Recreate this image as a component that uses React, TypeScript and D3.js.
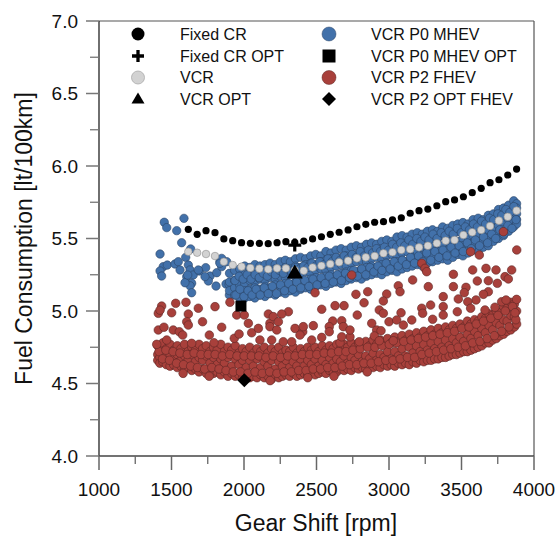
import React from 'react';
import * as d3 from 'd3';

const xTicks = [1000, 1500, 2000, 2500, 3000, 3500, 4000];
const yTicks = [4.0, 4.5, 5.0, 5.5, 6.0, 6.5, 7.0];
const xMinor = [1250, 1750, 2250, 2750, 3250, 3750];
const yMinor = [4.25, 4.75, 5.25, 5.75, 6.25, 6.75];

// Fixed CR and VCR sweep (same gear-shift points)
const sweepRpm = [1616, 1677, 1738, 1800, 1861, 1922, 1983, 2044, 2106, 2167, 2228, 2289, 2350, 2412, 2473, 2534, 2595, 2656, 2718, 2779, 2840, 2901, 2962, 3024, 3085, 3146, 3207, 3268, 3330, 3391, 3452, 3513, 3574, 3636, 3697, 3758, 3819, 3880];
const fixedCrFc = [5.563, 5.529, 5.554, 5.540, 5.497, 5.485, 5.471, 5.467, 5.467, 5.464, 5.471, 5.478, 5.474, 5.482, 5.497, 5.512, 5.529, 5.543, 5.559, 5.581, 5.598, 5.612, 5.616, 5.628, 5.643, 5.674, 5.692, 5.703, 5.726, 5.754, 5.766, 5.788, 5.816, 5.846, 5.885, 5.905, 5.938, 5.979];
const vcrFc = [5.409, 5.402, 5.393, 5.379, 5.340, 5.317, 5.306, 5.297, 5.292, 5.288, 5.294, 5.294, 5.280, 5.278, 5.300, 5.312, 5.324, 5.336, 5.347, 5.363, 5.370, 5.379, 5.398, 5.405, 5.421, 5.426, 5.439, 5.450, 5.467, 5.485, 5.490, 5.524, 5.543, 5.559, 5.586, 5.623, 5.650, 5.692];

// Optimum points [rpm, fc]
const fixedCrOpt = [2350, 5.455];
const vcrOpt = [2350, 5.262];
const p0Opt = [1979, 5.034];
const p2Opt = [2002, 4.522];

// VCR P0 MHEV: scattered low-rpm points [rpm, fc]
const p0Scatter = [
  [1450, 5.612], [1467, 5.575], [1536, 5.554], [1586, 5.639], [1570, 5.471], [1421, 5.393], [1632, 5.428], [1598, 5.370],
  [1443, 5.306], [1471, 5.317], [1421, 5.276], [1432, 5.241], [1524, 5.324], [1547, 5.340], [1559, 5.283], [1616, 5.317],
  [1628, 5.283], [1605, 5.237], [1650, 5.248], [1692, 5.276], [1736, 5.299], [1639, 5.191], [1628, 5.174], [1639, 5.126],
  [1766, 5.241], [1754, 5.207], [1812, 5.264], [1807, 5.172], [1834, 5.340], [1846, 5.306], [1881, 5.340], [1876, 5.186],
  [1899, 5.110], [1846, 5.363], [1593, 5.195], [1612, 5.248], [1685, 5.283], [1731, 5.237], [1834, 5.329], [1897, 5.184],
];
// VCR P0 MHEV: dense band, columns [rpm, fc...]
const p0BandCols = [
  [1900, 5.26, 5.20, 5.14], [1935, 5.28, 5.21, 5.16, 5.11], [1970, 5.29, 5.24, 5.18, 5.12, 5.09],
  [2005, 5.31, 5.25, 5.19, 5.14, 5.09], [2040, 5.30, 5.26, 5.21, 5.15, 5.10], [2075, 5.32, 5.27, 5.20, 5.16, 5.09],
  [2110, 5.31, 5.25, 5.22, 5.15, 5.11], [2145, 5.32, 5.28, 5.21, 5.17, 5.10], [2180, 5.33, 5.27, 5.23, 5.16, 5.12],
  [2215, 5.32, 5.29, 5.22, 5.18, 5.11], [2250, 5.34, 5.28, 5.24, 5.17, 5.13], [2285, 5.35, 5.30, 5.23, 5.19, 5.12],
  [2320, 5.34, 5.29, 5.25, 5.18, 5.14], [2355, 5.36, 5.31, 5.24, 5.20, 5.13], [2390, 5.37, 5.30, 5.26, 5.21, 5.15],
  [2425, 5.36, 5.32, 5.27, 5.20, 5.16], [2460, 5.38, 5.33, 5.26, 5.22, 5.15], [2495, 5.39, 5.32, 5.28, 5.23, 5.17],
  [2530, 5.38, 5.34, 5.29, 5.22, 5.18], [2565, 5.41, 5.35, 5.28, 5.24, 5.17], [2600, 5.40, 5.36, 5.30, 5.25, 5.19],
  [2635, 5.42, 5.35, 5.31, 5.24, 5.20], [2670, 5.43, 5.37, 5.32, 5.26, 5.19], [2705, 5.42, 5.38, 5.31, 5.27, 5.21],
  [2740, 5.44, 5.37, 5.33, 5.28, 5.22], [2775, 5.45, 5.39, 5.34, 5.27, 5.23], [2810, 5.44, 5.40, 5.35, 5.29, 5.22],
  [2845, 5.46, 5.41, 5.34, 5.30, 5.24], [2880, 5.47, 5.40, 5.36, 5.31, 5.25], [2915, 5.46, 5.42, 5.37, 5.30, 5.26],
  [2950, 5.48, 5.43, 5.36, 5.32, 5.25], [2985, 5.49, 5.42, 5.38, 5.33, 5.27], [3020, 5.48, 5.44, 5.39, 5.32, 5.28],
  [3055, 5.51, 5.45, 5.38, 5.34, 5.27], [3090, 5.52, 5.44, 5.40, 5.35, 5.29], [3125, 5.51, 5.47, 5.41, 5.34, 5.30],
  [3160, 5.53, 5.46, 5.42, 5.37, 5.31], [3195, 5.54, 5.48, 5.41, 5.36, 5.32], [3230, 5.53, 5.49, 5.44, 5.38, 5.31],
  [3265, 5.55, 5.48, 5.43, 5.39, 5.33], [3300, 5.56, 5.51, 5.45, 5.38, 5.34], [3335, 5.55, 5.50, 5.46, 5.41, 5.35],
  [3370, 5.58, 5.52, 5.45, 5.40, 5.36], [3405, 5.57, 5.53, 5.48, 5.42, 5.35], [3440, 5.59, 5.52, 5.49, 5.43, 5.37],
  [3475, 5.60, 5.55, 5.48, 5.44, 5.39], [3510, 5.61, 5.54, 5.50, 5.45, 5.38], [3545, 5.60, 5.57, 5.51, 5.46, 5.40],
  [3580, 5.63, 5.56, 5.52, 5.47, 5.42], [3615, 5.64, 5.59, 5.53, 5.48, 5.41], [3650, 5.63, 5.58, 5.54, 5.49, 5.44],
  [3685, 5.66, 5.61, 5.56, 5.50, 5.45], [3720, 5.67, 5.62, 5.57, 5.52, 5.48], [3755, 5.70, 5.63, 5.59, 5.54, 5.50],
  [3790, 5.71, 5.66, 5.61, 5.56, 5.52], [3825, 5.73, 5.68, 5.63, 5.58, 5.55], [3860, 5.76, 5.70, 5.65, 5.61, 5.58],
  [3880, 5.74, 5.71, 5.67, 5.63, 5.60],
];
// VCR P0 MHEV: further band points, two rows of [rpm, fc]
const p0BandRowA = [
  [1938, 5.21], [1966, 5.24], [1994, 5.22], [2022, 5.25], [2049, 5.22], [2077, 5.25], [2105, 5.23], [2133, 5.26], [2161, 5.24], [2189, 5.27],
  [2217, 5.25], [2245, 5.28], [2272, 5.26], [2300, 5.29], [2328, 5.27], [2356, 5.30], [2384, 5.29], [2412, 5.31], [2440, 5.30], [2468, 5.33],
  [2495, 5.31], [2523, 5.34], [2551, 5.32], [2579, 5.36], [2607, 5.34], [2635, 5.37], [2663, 5.35], [2691, 5.38], [2718, 5.36], [2746, 5.39],
  [2774, 5.37], [2802, 5.41], [2830, 5.38], [2858, 5.42], [2886, 5.40], [2914, 5.43], [2941, 5.41], [2969, 5.44], [2997, 5.42], [3025, 5.46],
  [3053, 5.44], [3081, 5.47], [3109, 5.45], [3137, 5.49], [3164, 5.46], [3192, 5.50], [3220, 5.48], [3248, 5.51], [3276, 5.49], [3304, 5.53],
  [3332, 5.50], [3360, 5.54], [3387, 5.52], [3415, 5.55], [3443, 5.53], [3471, 5.57], [3499, 5.54], [3527, 5.58], [3555, 5.56], [3583, 5.60],
  [3610, 5.58], [3638, 5.62], [3666, 5.60], [3694, 5.64], [3722, 5.63], [3750, 5.67], [3778, 5.66], [3806, 5.70], [3833, 5.68], [3861, 5.72],
];
const p0BandRowB = [
  [1944, 5.11], [1972, 5.15], [2000, 5.10], [2028, 5.14], [2056, 5.11], [2084, 5.15], [2112, 5.11], [2140, 5.16], [2168, 5.12], [2196, 5.17],
  [2224, 5.12], [2252, 5.18], [2280, 5.14], [2308, 5.19], [2336, 5.15], [2364, 5.20], [2392, 5.16], [2420, 5.21], [2448, 5.17], [2476, 5.22],
  [2504, 5.18], [2532, 5.23], [2560, 5.19], [2588, 5.24], [2616, 5.20], [2644, 5.25], [2672, 5.21], [2700, 5.26], [2728, 5.23], [2756, 5.28],
  [2784, 5.24], [2812, 5.29], [2840, 5.25], [2868, 5.30], [2896, 5.27], [2924, 5.31], [2952, 5.28], [2980, 5.33], [3008, 5.29], [3036, 5.34],
  [3064, 5.31], [3092, 5.35], [3120, 5.32], [3148, 5.37], [3176, 5.33], [3204, 5.38], [3232, 5.34], [3260, 5.40], [3288, 5.35], [3316, 5.41],
  [3344, 5.37], [3372, 5.42], [3400, 5.38], [3428, 5.44], [3456, 5.40], [3484, 5.45], [3512, 5.41], [3540, 5.47], [3568, 5.43], [3596, 5.49],
  [3624, 5.45], [3652, 5.51], [3680, 5.47], [3708, 5.53], [3736, 5.50], [3764, 5.56], [3792, 5.53], [3820, 5.59], [3848, 5.57], [3876, 5.63],
];

// VCR P2 FHEV: scattered points above the dense band [rpm, fc]
const p2Scatter = [
  [1432, 5.034], [1409, 4.984], [1529, 5.053], [1600, 5.060], [1685, 5.019], [1501, 4.988], [1616, 4.979], [1800, 5.030],
  [1903, 5.060], [1950, 4.972], [2002, 4.972], [2168, 4.979], [1605, 4.926], [1616, 4.903], [1714, 4.926], [2030, 4.915],
  [1409, 4.869], [1448, 4.888], [1512, 4.869], [1554, 4.857], [1577, 4.834], [1761, 4.834], [1846, 4.888], [1933, 4.812],
  [1966, 4.841], [2053, 4.850], [2099, 4.880], [2110, 4.800], [2191, 4.800], [2179, 4.915], [1467, 4.800], [1398, 4.770],
  [1639, 4.777], [1793, 4.781], [1421, 5.006],
  [2743, 5.248], [2490, 5.126], [2772, 5.115], [2853, 5.133], [2984, 5.117], [3064, 5.174], [2828, 5.057], [2628, 5.037],
  [2690, 5.037], [2536, 5.012], [2781, 4.972], [2933, 5.007], [2961, 4.984], [3083, 4.988], [2306, 4.995], [2260, 4.979],
  [2202, 4.961], [2237, 4.926], [2179, 4.892], [2226, 4.869], [2612, 4.931], [2674, 4.933], [2685, 4.892], [2588, 4.892],
  [2588, 4.857], [2478, 4.899], [2352, 4.880], [2405, 4.857], [2386, 4.834], [2467, 4.800], [2536, 4.818], [2662, 4.781],
  [2731, 4.822], [2795, 4.788], [2881, 4.915], [2915, 4.869], [2945, 4.864], [3000, 4.926], [3053, 4.938], [3099, 4.903],
  [2899, 4.828], [2933, 4.795], [3030, 4.795], [2271, 4.788], [2329, 4.788], [2961, 5.069], [2731, 4.869], [2409, 4.892],
  [2674, 4.822],
  [3789, 5.547], [3881, 5.421], [3563, 5.409], [3623, 5.386], [3226, 5.329], [3248, 5.294], [3260, 5.271], [3163, 5.214],
  [3444, 5.253], [3577, 5.283], [3669, 5.294], [3738, 5.283], [3846, 5.283], [3800, 5.237], [3823, 5.221], [3609, 5.207],
  [3685, 5.209], [3747, 5.191], [3444, 5.168], [3531, 5.163], [3271, 5.168], [3519, 5.126], [3374, 5.099], [3478, 5.083],
  [3600, 5.076], [3543, 5.064], [3563, 5.019], [3685, 5.133], [3651, 5.115], [3777, 5.064], [3807, 5.076], [3869, 4.988],
  [3287, 5.041], [3374, 5.030], [3471, 4.995], [3374, 4.972], [3301, 4.943], [3226, 5.019], [3232, 4.984], [3157, 4.938],
  [3662, 5.007], [3731, 5.026], [3076, 5.133],
  [1580, 4.570], [1760, 4.550], [2180, 4.520], [2440, 4.540], [2620, 4.550], [2850, 4.580],
];
// VCR P2 FHEV: dense band, columns [rpm, fc...]
const p2BandCols = [
  [1405, 4.76, 4.70, 4.66], [1420, 4.73, 4.68, 4.64], [1440, 4.78, 4.71, 4.65], [1465, 4.74, 4.69, 4.63], [1490, 4.77, 4.70, 4.62],
  [1515, 4.73, 4.67, 4.63], [1540, 4.76, 4.70, 4.61], [1565, 4.74, 4.66, 4.62], [1590, 4.77, 4.69, 4.60], [1615, 4.72, 4.66, 4.61],
  [1640, 4.75, 4.70, 4.59], [1665, 4.73, 4.65, 4.60], [1690, 4.77, 4.68, 4.58], [1715, 4.74, 4.66, 4.60], [1740, 4.76, 4.69, 4.57],
  [1765, 4.72, 4.64, 4.59], [1790, 4.75, 4.68, 4.57], [1815, 4.73, 4.63, 4.58], [1840, 4.77, 4.67, 4.56], [1865, 4.72, 4.64, 4.58],
  [1890, 4.75, 4.68, 4.55], [1915, 4.73, 4.62, 4.57], [1940, 4.76, 4.67, 4.55], [1965, 4.71, 4.63, 4.56], [1990, 4.74, 4.66, 4.54],
  [2015, 4.72, 4.61, 4.56], [2040, 4.75, 4.66, 4.54], [2065, 4.71, 4.62, 4.55], [2090, 4.74, 4.67, 4.54], [2115, 4.72, 4.61, 4.56],
  [2140, 4.75, 4.65, 4.54], [2165, 4.71, 4.62, 4.55], [2190, 4.74, 4.66, 4.53], [2215, 4.72, 4.60, 4.56], [2240, 4.75, 4.65, 4.54],
  [2265, 4.71, 4.62, 4.55], [2290, 4.73, 4.66, 4.56], [2315, 4.72, 4.61, 4.55], [2340, 4.75, 4.65, 4.57], [2365, 4.71, 4.62, 4.55],
  [2390, 4.74, 4.67, 4.56], [2415, 4.72, 4.62, 4.57], [2440, 4.75, 4.66, 4.56], [2465, 4.73, 4.63, 4.58], [2490, 4.75, 4.67, 4.56],
  [2515, 4.72, 4.62, 4.57], [2540, 4.76, 4.66, 4.58], [2565, 4.73, 4.63, 4.57], [2590, 4.76, 4.68, 4.59], [2615, 4.74, 4.64, 4.58],
  [2640, 4.77, 4.67, 4.58], [2665, 4.74, 4.65, 4.60], [2690, 4.77, 4.69, 4.59], [2715, 4.75, 4.64, 4.60], [2740, 4.78, 4.68, 4.59],
  [2765, 4.75, 4.66, 4.61], [2790, 4.78, 4.70, 4.60], [2815, 4.76, 4.65, 4.61], [2840, 4.79, 4.69, 4.60], [2865, 4.76, 4.67, 4.62],
  [2890, 4.80, 4.71, 4.61], [2915, 4.77, 4.66, 4.62], [2940, 4.80, 4.70, 4.61], [2965, 4.78, 4.68, 4.63], [2990, 4.81, 4.72, 4.62],
  [3015, 4.78, 4.67, 4.63], [3040, 4.82, 4.72, 4.62], [3065, 4.79, 4.69, 4.64], [3090, 4.83, 4.74, 4.63], [3115, 4.80, 4.69, 4.64],
  [3140, 4.84, 4.75, 4.63], [3165, 4.81, 4.71, 4.65], [3190, 4.85, 4.76, 4.64], [3215, 4.82, 4.72, 4.66], [3240, 4.86, 4.77, 4.65],
  [3265, 4.83, 4.73, 4.66], [3290, 4.87, 4.78, 4.66], [3315, 4.84, 4.74, 4.67], [3340, 4.88, 4.79, 4.67], [3365, 4.85, 4.75, 4.68],
  [3390, 4.89, 4.80, 4.68], [3415, 4.87, 4.76, 4.69], [3440, 4.90, 4.81, 4.70], [3465, 4.88, 4.78, 4.70], [3490, 4.91, 4.82, 4.71],
  [3515, 4.89, 4.79, 4.72], [3540, 4.93, 4.84, 4.72], [3565, 4.91, 4.81, 4.73], [3590, 4.94, 4.86, 4.74], [3615, 4.93, 4.83, 4.75],
  [3640, 4.96, 4.88, 4.76], [3665, 4.95, 4.85, 4.78], [3690, 4.98, 4.90, 4.78], [3715, 4.97, 4.87, 4.80], [3740, 5.00, 4.92, 4.81],
  [3765, 4.99, 4.90, 4.83], [3790, 5.03, 4.94, 4.84], [3815, 5.02, 4.93, 4.86], [3840, 5.06, 4.97, 4.87], [3865, 5.05, 4.96, 4.89],
  [3880, 5.08, 5.00, 4.91],
];
// VCR P2 FHEV: further band points, two rows of [rpm, fc]
const p2BandRowA = [
  [1414, 4.72], [1438, 4.67], [1461, 4.73], [1486, 4.66], [1511, 4.72], [1535, 4.64], [1558, 4.71], [1583, 4.63], [1609, 4.70], [1632, 4.62],
  [1656, 4.71], [1679, 4.61], [1704, 4.70], [1729, 4.60], [1753, 4.70], [1778, 4.61], [1801, 4.70], [1828, 4.60], [1851, 4.69], [1876, 4.59],
  [1902, 4.70], [1926, 4.58], [1952, 4.69], [1976, 4.58], [2001, 4.69], [2027, 4.57], [2051, 4.69], [2076, 4.58], [2102, 4.69], [2126, 4.57],
  [2151, 4.68], [2177, 4.58], [2201, 4.69], [2227, 4.57], [2252, 4.68], [2276, 4.58], [2302, 4.69], [2327, 4.58], [2352, 4.69], [2377, 4.59],
  [2402, 4.70], [2428, 4.59], [2452, 4.70], [2477, 4.60], [2502, 4.70], [2528, 4.60], [2553, 4.71], [2577, 4.61], [2603, 4.71], [2627, 4.61],
  [2652, 4.72], [2678, 4.62], [2703, 4.72], [2727, 4.63], [2752, 4.73], [2778, 4.63], [2802, 4.74], [2827, 4.64], [2852, 4.75], [2877, 4.64],
  [2903, 4.75], [2927, 4.65], [2952, 4.76], [2978, 4.66], [3002, 4.77], [3027, 4.66], [3052, 4.78], [3077, 4.67], [3102, 4.79], [3127, 4.68],
  [3152, 4.80], [3177, 4.68], [3202, 4.81], [3227, 4.70], [3252, 4.82], [3277, 4.71], [3302, 4.83], [3327, 4.72], [3352, 4.84], [3377, 4.73],
  [3402, 4.85], [3427, 4.74], [3452, 4.86], [3477, 4.75], [3502, 4.88], [3527, 4.76], [3552, 4.89], [3577, 4.78], [3602, 4.91], [3627, 4.79],
  [3652, 4.93], [3677, 4.81], [3702, 4.95], [3727, 4.83], [3752, 4.97], [3777, 4.86], [3802, 5.00], [3827, 4.89], [3852, 5.03], [3875, 4.94],
];

const legendCol1 = ['Fixed CR', 'Fixed CR OPT', 'VCR', 'VCR OPT'];
const legendCol2 = ['VCR P0 MHEV', 'VCR P0 MHEV OPT', 'VCR P2 FHEV', 'VCR P2 OPT FHEV'];

const W = 559;
const H = 538;
const L = 99, R = 534, T = 21, B = 456;
const FONT = '"Liberation Sans", Arial, Helvetica, sans-serif';

const BLUE = '#4271aa';
const RED = '#a8403b';
const GREY = '#d2d2d2';

function plusPath(cx: number, cy: number, s: number, t: number) {
  const h = s / 2, w = t / 2;
  return `M${cx - w},${cy - h}H${cx + w}V${cy - w}H${cx + h}V${cy + w}H${cx + w}V${cy + h}H${cx - w}V${cy + w}H${cx - h}V${cy - w}H${cx - w}Z`;
}
function triPath(cx: number, cy: number, w: number, h: number) {
  return `M${cx - w / 2},${cy + h * 0.4}L${cx + w / 2},${cy + h * 0.4}L${cx},${cy - h * 0.6}Z`;
}
function diamondPath(cx: number, cy: number, r: number) {
  return `M${cx},${cy - r}L${cx + r},${cy}L${cx},${cy + r}L${cx - r},${cy}Z`;
}

export default function App() {
  const x = d3.scaleLinear().domain([1000, 4000]).range([L, R]);
  const y = d3.scaleLinear().domain([4, 7]).range([B, T]);

  const fromCols = (cols: number[][]) => cols.flatMap((c) => c.slice(1).map((v) => [c[0], v]));
  const p0Pts = [...p0Scatter, ...fromCols(p0BandCols), ...p0BandRowB, ...p0BandRowA];
  const p2Pts = [...fromCols(p2BandCols), ...p2BandRowA, ...p2Scatter];

  const legRows = [34, 56, 77.5, 99];

  return (
    <svg width={W} height={H} style={{ position: 'absolute', left: 0, top: 0, background: '#fff' }} fontFamily={FONT}>
      <rect x={0} y={0} width={W} height={H} fill="#fff" />
      {/* frame */}
      <line x1={L} x2={R} y1={T} y2={T} stroke="#555" strokeWidth={1.2} />
      <line x1={R} x2={R} y1={T} y2={B} stroke="#555" strokeWidth={1.2} />
      <line x1={L} x2={L} y1={T} y2={B} stroke="#222" strokeWidth={1.3} />
      <line x1={L} x2={R} y1={B} y2={B} stroke="#444" strokeWidth={1.3} />

      {/* y ticks */}
      {yTicks.map((t) => (
        <g key={'y' + t}>
          <line x1={L - 13} x2={L} y1={y(t)} y2={y(t)} stroke="#777" strokeWidth={1.5} />
          <text x={78} y={y(t) + 6.8} textAnchor="end" fontSize={19} fill="#111">{t.toFixed(1)}</text>
        </g>
      ))}
      {yMinor.map((t) => (
        <line key={'ym' + t} x1={L - 9} x2={L} y1={y(t)} y2={y(t)} stroke="#777" strokeWidth={1.3} />
      ))}
      {/* x ticks */}
      {xTicks.map((t) => (
        <g key={'x' + t}>
          <line x1={x(t)} x2={x(t)} y1={B} y2={B + 14} stroke="#666" strokeWidth={1.5} />
          <text x={x(t)} y={496} textAnchor="middle" fontSize={19} fill="#111">{t}</text>
        </g>
      ))}
      {xMinor.map((t) => (
        <line key={'xm' + t} x1={x(t)} x2={x(t)} y1={B} y2={B + 8} stroke="#666" strokeWidth={1.3} />
      ))}

      {/* axis titles */}
      <text x={316} y={531} textAnchor="middle" fontSize={23} fill="#111">Gear Shift [rpm]</text>
      <text transform={`translate(32,${(T + B) / 2}) rotate(-90)`} textAnchor="middle" fontSize={23} fill="#111">
        Fuel Consumption [lt/100km]
      </text>

      {/* data */}
      <g>
        {p0Pts.map((d, i) => (
          <circle key={'b' + i} cx={x(d[0])} cy={y(d[1])} r={4.2} fill={BLUE} stroke="#2c4466" strokeWidth={0.6} />
        ))}
      </g>
      <g>
        {p2Pts.map((d, i) => (
          <circle key={'r' + i} cx={x(d[0])} cy={y(d[1])} r={4.3} fill={RED} stroke="#5e2725" strokeWidth={0.6} />
        ))}
      </g>
      <g>
        {sweepRpm.map((r, i) => (
          <circle key={'g' + i} cx={x(r)} cy={y(vcrFc[i])} r={3.8} fill={GREY} stroke="#8c8c8c" strokeWidth={0.6} />
        ))}
      </g>
      <g>
        {sweepRpm.map((r, i) => (
          <circle key={'k' + i} cx={x(r)} cy={y(fixedCrFc[i])} r={3.6} fill="#000" />
        ))}
      </g>
      <path d={plusPath(x(fixedCrOpt[0]), y(fixedCrOpt[1]), 13, 3.2)} fill="#000" />
      <path d={triPath(x(vcrOpt[0]), y(vcrOpt[1]), 16, 14)} fill="#000" />
      <rect x={x(p0Opt[0]) - 5.5} y={y(p0Opt[1]) - 5.5} width={11} height={11} fill="#000" />
      <path d={diamondPath(x(p2Opt[0]), y(p2Opt[1]), 7)} fill="#000" />

      {/* legend */}
      <g fontSize={16} fill="#111">
        <circle cx={138} cy={legRows[0]} r={6.5} fill="#000" />
        <path d={plusPath(138, legRows[1], 12, 3.3)} fill="#000" />
        <circle cx={138} cy={legRows[2]} r={6.5} fill={GREY} stroke="#aaa" strokeWidth={0.8} />
        <path d={triPath(138, legRows[3], 13, 11)} fill="#000" />
        {legendCol1.map((s, i) => (
          <text key={s} x={180} y={legRows[i] + 5.7}>{s}</text>
        ))}
        <circle cx={329} cy={legRows[0]} r={7} fill={BLUE} stroke="#2c4466" strokeWidth={0.5} />
        <rect x={322.5} y={legRows[1] - 6.5} width={13} height={13} fill="#000" />
        <circle cx={329} cy={legRows[2]} r={7} fill={RED} stroke="#5e2725" strokeWidth={0.5} />
        <path d={diamondPath(329, legRows[3], 7)} fill="#000" />
        {legendCol2.map((s, i) => (
          <text key={s} x={371} y={legRows[i] + 5.7}>{s}</text>
        ))}
      </g>
    </svg>
  );
}
